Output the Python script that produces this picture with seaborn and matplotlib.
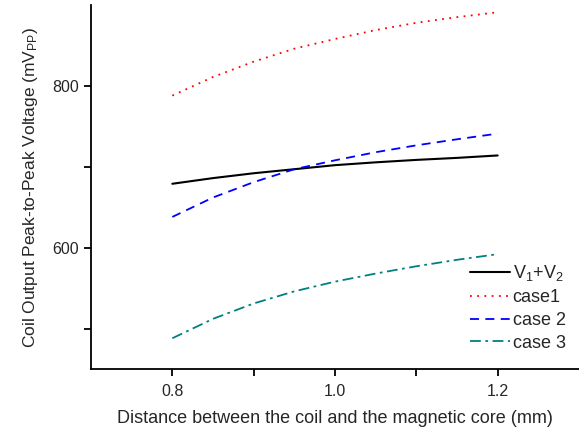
import matplotlib
matplotlib.use("Agg")
import numpy as np
import pandas as pd
import seaborn as sns
import matplotlib.pyplot as plt
import matplotlib.ticker as ticker

# data
distance = [0.80, 0.85, 0.90, 0.95, 1.00, 1.05, 1.10, 1.15, 1.20]
v_sum = [679, 686, 692, 697, 702, 705.5, 708.5, 711, 714]
case1 = [788, 811, 830, 846, 858, 869, 878, 885, 891]
case2 = [638, 662, 681, 697, 708, 718, 726.5, 734, 741]
case3 = [488, 512, 531, 546, 558, 568, 577, 585, 592]

series_names = ["V$_1$+V$_2$", "case1", "case 2", "case 3"]
series_values = [v_sum, case1, case2, case3]

sns.set_style("white")
plt.rcParams["font.family"] = ["Liberation Sans", "DejaVu Sans"]
plt.rcParams["mathtext.fontset"] = "custom"
plt.rcParams["mathtext.rm"] = "Liberation Sans"
plt.rcParams["mathtext.it"] = "Liberation Sans"

df = pd.concat(
    [pd.DataFrame({"x": distance, "y": vals, "series": name})
     for name, vals in zip(series_names, series_values)],
    ignore_index=True,
)

colors = ["#000000", "#ff0000", "#0000ff", "#008080"]
dashes = [(None, None), (1, 3), (5, 3.5), (6, 2.5, 1.5, 2.5)]

fig = plt.figure(figsize=(5.79, 4.34), dpi=100)
ax = fig.add_axes([91 / 579, 65 / 434, 488 / 579, 364 / 434])

for name, c, d in zip(series_names, colors, dashes):
    sub = df[df["series"] == name]
    sns.lineplot(data=sub, x="x", y="y", ax=ax, color=c,
                 lw=1.5 if d[0] is None else 1.3, label=name)
    ln = ax.get_lines()[-1]
    if d[0] is not None:
        ln.set_dashes(d)

ax.set_xlim(0.7, 1.3)
ax.set_ylim(450, 900)
ax.xaxis.set_major_locator(ticker.FixedLocator([0.8, 1.0, 1.2]))
ax.xaxis.set_major_formatter(ticker.FormatStrFormatter("%.1f"))
ax.xaxis.set_minor_locator(ticker.FixedLocator([0.9, 1.1]))
ax.yaxis.set_major_locator(ticker.FixedLocator([600, 800]))
ax.yaxis.set_minor_locator(ticker.FixedLocator([500, 700]))

for side in ["top", "right"]:
    ax.spines[side].set_visible(False)
for side in ["left", "bottom"]:
    ax.spines[side].set_linewidth(1.3)
    ax.spines[side].set_color("black")

ax.tick_params(axis="both", which="both", direction="out", length=5, width=1.3,
               color="black", labelsize=11.5, bottom=True, left=True)
ax.tick_params(axis="x", which="major", pad=6)

ax.set_xlabel("Distance between the coil and the magnetic core (mm)", fontsize=13, labelpad=8)
ax.set_ylabel("Coil Output Peak-to-Peak Voltage (mV$_{PP}$)", fontsize=12.5, labelpad=9)

leg = ax.legend(loc="upper left", bbox_to_anchor=(0.762, 0.31), frameon=False,
                fontsize=13, handlelength=2.2, handletextpad=0.15,
                labelspacing=0.32, borderaxespad=0)

fig.savefig("out.png", dpi=100)
